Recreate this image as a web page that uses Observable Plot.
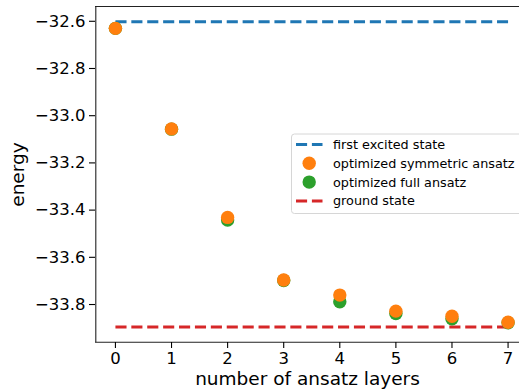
<!DOCTYPE html>
<html>
<head>
<meta charset="utf-8">
<script src="https://cdn.jsdelivr.net/npm/d3@7"></script>
<script src="https://cdn.jsdelivr.net/npm/@observablehq/plot@0.6"></script>
<style>
  html, body { margin: 0; padding: 0; background: white; }
  svg { display: block; }
</style>
</head>
<body>
<div id="chart"></div>
<script>
// ---- data ----
const layers = [0, 1, 2, 3, 4, 5, 6, 7];
const symmetricEnergy = [-32.630, -33.056, -33.431, -33.696, -33.760, -33.828, -33.850, -33.875];
const fullEnergy = [-32.630, -33.057, -33.442, -33.698, -33.788, -33.838, -33.860, -33.877];
const excitedEnergy = -32.602;
const groundEnergy = -33.895;
const yTicks = [-32.6, -32.8, -33.0, -33.2, -33.4, -33.6, -33.8];
const xTicks = [0, 1, 2, 3, 4, 5, 6, 7];
const seriesNames = ["first excited state", "optimized symmetric ansatz", "optimized full ansatz", "ground state"];
const colors = {blue: "#1f77b4", orange: "#ff7f0e", green: "#2ca02c", red: "#d62728"};

// ---- derived tables ----
const symRows = layers.map((l, i) => ({layer: l, energy: symmetricEnergy[i]}));
const fullRows = layers.map((l, i) => ({layer: l, energy: fullEnergy[i]}));
const first = layers[0], last = layers[layers.length - 1];
const excitedRows = [{layer: first, energy: excitedEnergy}, {layer: last, energy: excitedEnergy}];
const groundRows = [{layer: first, energy: groundEnergy}, {layer: last, energy: groundEnergy}];

const xPad = (last - first) * 0.05;
const yMin = Math.min(groundEnergy, ...symmetricEnergy, ...fullEnergy);
const yMax = Math.max(excitedEnergy, ...symmetricEnergy, ...fullEnergy);
const yPad = (yMax - yMin) * 0.05;
const xDomain = [first - xPad, last + xPad];
const yDomain = [yMin - yPad, yMax + yPad];

const fmt = v => (v < 0 ? "\u2212" : "") + Math.abs(v).toFixed(1);
const dash = "11.1,4.8";

const chart = Plot.plot({
  width: 519,
  height: 390,
  marginLeft: 95,
  marginRight: 0,
  marginTop: 6,
  marginBottom: 48,
  x: {domain: xDomain, range: [95.3, 527.2]},
  y: {domain: yDomain, range: [341.7, 6]},
  style: {fontFamily: "DejaVu Sans", fontSize: "16.5px", color: "black", background: "white", overflow: "hidden"},
  marks: [
    Plot.line(excitedRows, {x: "layer", y: "energy", stroke: colors.blue, strokeWidth: 3, strokeDasharray: dash, strokeLinecap: "butt"}),
    Plot.line(groundRows, {x: "layer", y: "energy", stroke: colors.red, strokeWidth: 3, strokeDasharray: dash, strokeLinecap: "butt"}),
    Plot.dot(fullRows, {x: "layer", y: "energy", r: 6.7, fill: colors.green, stroke: "none"}),
    Plot.dot(symRows, {x: "layer", y: "energy", r: 6.7, fill: colors.orange, stroke: "none"}),
    Plot.ruleY([yDomain[1]], {stroke: "#222", strokeWidth: 1.1}),
    Plot.ruleY([yDomain[0]], {stroke: "#222", strokeWidth: 1.1}),
    Plot.ruleX([xDomain[0]], {stroke: "#222", strokeWidth: 1.1}),
    Plot.axisY({ticks: yTicks, tickFormat: fmt, tickSize: 6, tickPadding: 4, label: null, strokeWidth: 1.1}),
    Plot.axisX({ticks: xTicks, tickFormat: d => String(d), tickSize: 6, tickPadding: 4, label: null, strokeWidth: 1.1}),
    Plot.text(["energy"], {frameAnchor: "left", dx: -77, dy: 0, rotate: -90, fontSize: 18.5, textAnchor: "middle", lineAnchor: "middle"}),
    Plot.text(["number of ansatz layers"], {frameAnchor: "bottom", dy: 37, fontSize: 18.5, textAnchor: "middle", lineAnchor: "middle"})
  ]
});

document.getElementById("chart").appendChild(chart);

// ---- legend (inside plot area, upper right) ----
const svg = d3.select(chart);
const lg = svg.append("g").attr("font-family", "DejaVu Sans").attr("font-size", 12.8).attr("text-anchor", "start");
lg.append("rect")
  .attr("x", 291.5).attr("y", 134).attr("width", 240).attr("height", 79.5)
  .attr("rx", 3).attr("fill", "white").attr("fill-opacity", 0.8)
  .attr("stroke", "#d6d6d6").attr("stroke-width", 1);
const rowsY = [144.4, 163.3, 182.1, 201.0];
const kinds = [
  {type: "line", color: colors.blue},
  {type: "dot", color: colors.orange},
  {type: "dot", color: colors.green},
  {type: "line", color: colors.red}
];
kinds.forEach((k, i) => {
  const y = rowsY[i];
  if (k.type === "line") {
    lg.append("line").attr("x1", 296).attr("x2", 322.5).attr("y1", y).attr("y2", y)
      .attr("stroke", k.color).attr("stroke-width", 3).attr("stroke-dasharray", dash);
  } else {
    lg.append("circle").attr("cx", 309.2).attr("cy", y).attr("r", 6.7).attr("fill", k.color);
  }
  lg.append("text").attr("x", 333).attr("y", y).attr("dy", "0.35em").attr("fill", "black")
    .attr("text-anchor", "start").text(seriesNames[i]);
});
</script>
</body>
</html>
